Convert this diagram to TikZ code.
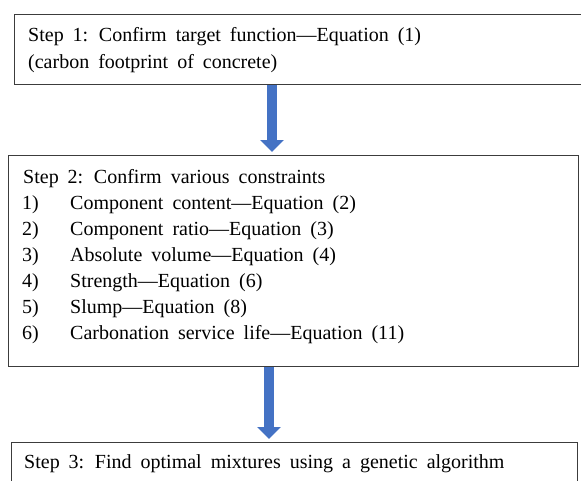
\documentclass[tikz,border=0pt]{standalone}
\usepackage{fontspec}
\setmainfont{Liberation Serif}
\usetikzlibrary{positioning,arrows.meta}
\definecolor{flowblue}{RGB}{68,114,196}
\definecolor{framegray}{RGB}{60,60,60}
\newcommand{\stepfont}{\fontsize{20}{26}\selectfont\spaceskip=0.45em plus 1pt minus 1pt\relax}

\begin{document}
\begin{tikzpicture}[x=1pt,y=-1pt,
    stepbox/.style={draw=framegray,line width=1.3pt,anchor=north west,inner sep=0pt},
    steptext/.style={anchor=base west,inner sep=0pt,font=\stepfont},
    flow/.style={flowblue,line width=10.5pt,-{Triangle[length=12pt,width=23pt]}}]
    \useasboundingbox (0,0) rectangle (581,480);
    % Step 1
    \node[stepbox,minimum width=570pt,minimum height=70pt] (box1) at (14,14) {};
    \node[steptext] (s1a) at (28,41) {Step 1: Confirm target function—Equation (1)};
    \node[steptext] (s1b) at (28,68) {(carbon footprint of concrete)};
    % Step 2
    \node[stepbox,minimum width=570pt,minimum height=211pt] (box2) at (8,155) {};
    \node[steptext] (s2) at (23,183) {Step 2: Confirm various constraints};
    \node[steptext] (n1) at (22,209) {1)};
    \node[steptext] (c1) at (70,209) {Component content—Equation (2)};
    \node[steptext] (n2) at (22,235) {2)};
    \node[steptext] (c2) at (70,235) {Component ratio—Equation (3)};
    \node[steptext] (n3) at (22,261) {3)};
    \node[steptext] (c3) at (70,261) {Absolute volume—Equation (4)};
    \node[steptext] (n4) at (22,287) {4)};
    \node[steptext] (c4) at (70,287) {Strength—Equation (6)};
    \node[steptext] (n5) at (22,313) {5)};
    \node[steptext] (c5) at (70,313) {Slump—Equation (8)};
    \node[steptext] (n6) at (22,339) {6)};
    \node[steptext] (c6) at (70,339) {Carbonation service life—Equation (11)};
    % Step 3
    \node[stepbox,minimum width=566pt,minimum height=60pt] (box3) at (11,442) {};
    \node[steptext] (s3) at (24,468) {Step 3: Find optimal mixtures using a genetic algorithm};
    % arrows
    \coordinate (a1) at (272,0);
    \coordinate (a2) at (269,0);
    \draw[flow,shorten >=3pt] (box1.south -| a1) -- (box2.north -| a1);
    \draw[flow,shorten >=3pt] (box2.south -| a2) -- (box3.north -| a2);
\end{tikzpicture}
\end{document}
